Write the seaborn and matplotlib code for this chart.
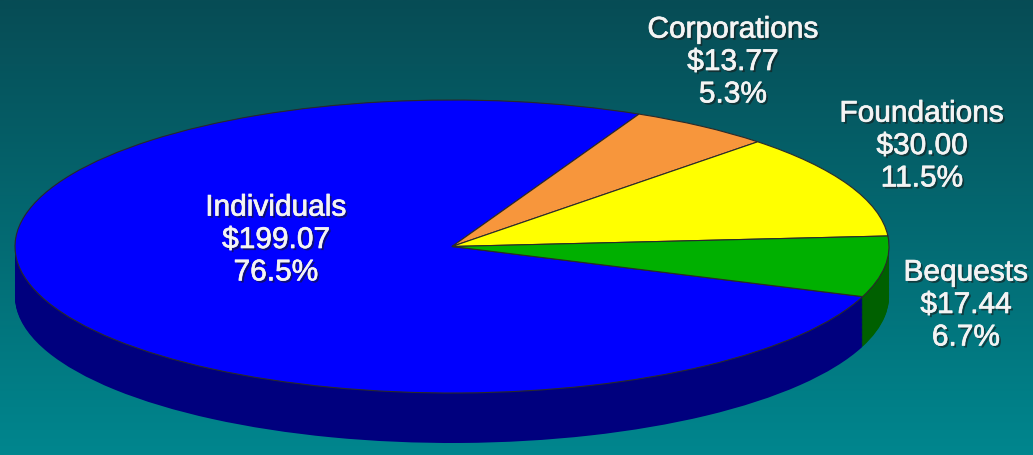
import numpy as np
import matplotlib
matplotlib.use("Agg")
import matplotlib.pyplot as plt
import matplotlib.patheffects as pe
import seaborn as sns

# ---- data ----
categories = ["Individuals", "Corporations", "Foundations", "Bequests"]
amounts = [199.07, 13.77, 30.00, 17.44]
percents = ["76.5%", "5.3%", "11.5%", "6.7%"]
top_colors = ["#0000ff", "#f7963c", "#ffff00", "#00b000"]
side_colors = ["#00007e", "#a85a1c", "#a0a000", "#006000"]

sns.set_theme(style="white")
plt.rcParams["font.family"] = ["Liberation Sans", "DejaVu Sans"]

W, H, DPI = 1033, 455, 100
fig = plt.figure(figsize=(W / DPI, H / DPI), dpi=DPI)

# background gradient
bg = fig.add_axes([0, 0, 1, 1])
grad = np.linspace(0, 1, 256).reshape(-1, 1)
c_top = np.array([0x07, 0x4c, 0x55]) / 255
c_bot = np.array([0x00, 0x86, 0x8e]) / 255
img = c_top[None, None, :] * (1 - grad[..., None]) + c_bot[None, None, :] * grad[..., None]
bg.imshow(img, aspect="auto", extent=[0, 1, 0, 1])
bg.set_axis_off()

ax = fig.add_axes([0, 0, 1, 1])
ax.patch.set_alpha(0)

# geometry (pixels)
cx, cy_top = 452, 246.5
a, b = 437, 146.5
depth_px = 50
depth = depth_px / b

start = -20
n_layers = 60
for k in range(n_layers + 1):
    off = depth * (1 - k / n_layers)
    ax.pie(amounts, colors=side_colors, startangle=start, counterclock=False,
           center=(0, -off), radius=1,
           wedgeprops=dict(linewidth=0, antialiased=True))

ax.pie(amounts, colors=top_colors, startangle=start, counterclock=False,
       center=(0, 0), radius=1,
       wedgeprops=dict(edgecolor="#2a2a2a", linewidth=0.8))

ax.set_aspect("auto")
ax.set_xlim(-cx / a, (W - cx) / a)
ax.set_ylim(-(H - cy_top) / b, cy_top / b)
ax.set_axis_off()

# labels (pixel positions of block centers)
label_pos = [(276, 240), (733, 62), (922, 146), (966, 305)]
txt_color = "#f4f4f4"
for name, amt, pct, (px, py) in zip(categories, amounts, percents, label_pos):
    fig.text(px / W, 1 - py / H, f"{name}\n${amt:.2f}\n{pct}",
             ha="center", va="center", fontsize=21.5, color=txt_color,
             linespacing=1.2, multialignment="center",
             path_effects=[pe.SimplePatchShadow(offset=(1.5, -1.5),
                                                shadow_rgbFace="#1a1a1a",
                                                alpha=0.6),
                           pe.Stroke(linewidth=0.5, foreground=txt_color),
                           pe.Normal()])

fig.savefig("out.png", dpi=DPI)
